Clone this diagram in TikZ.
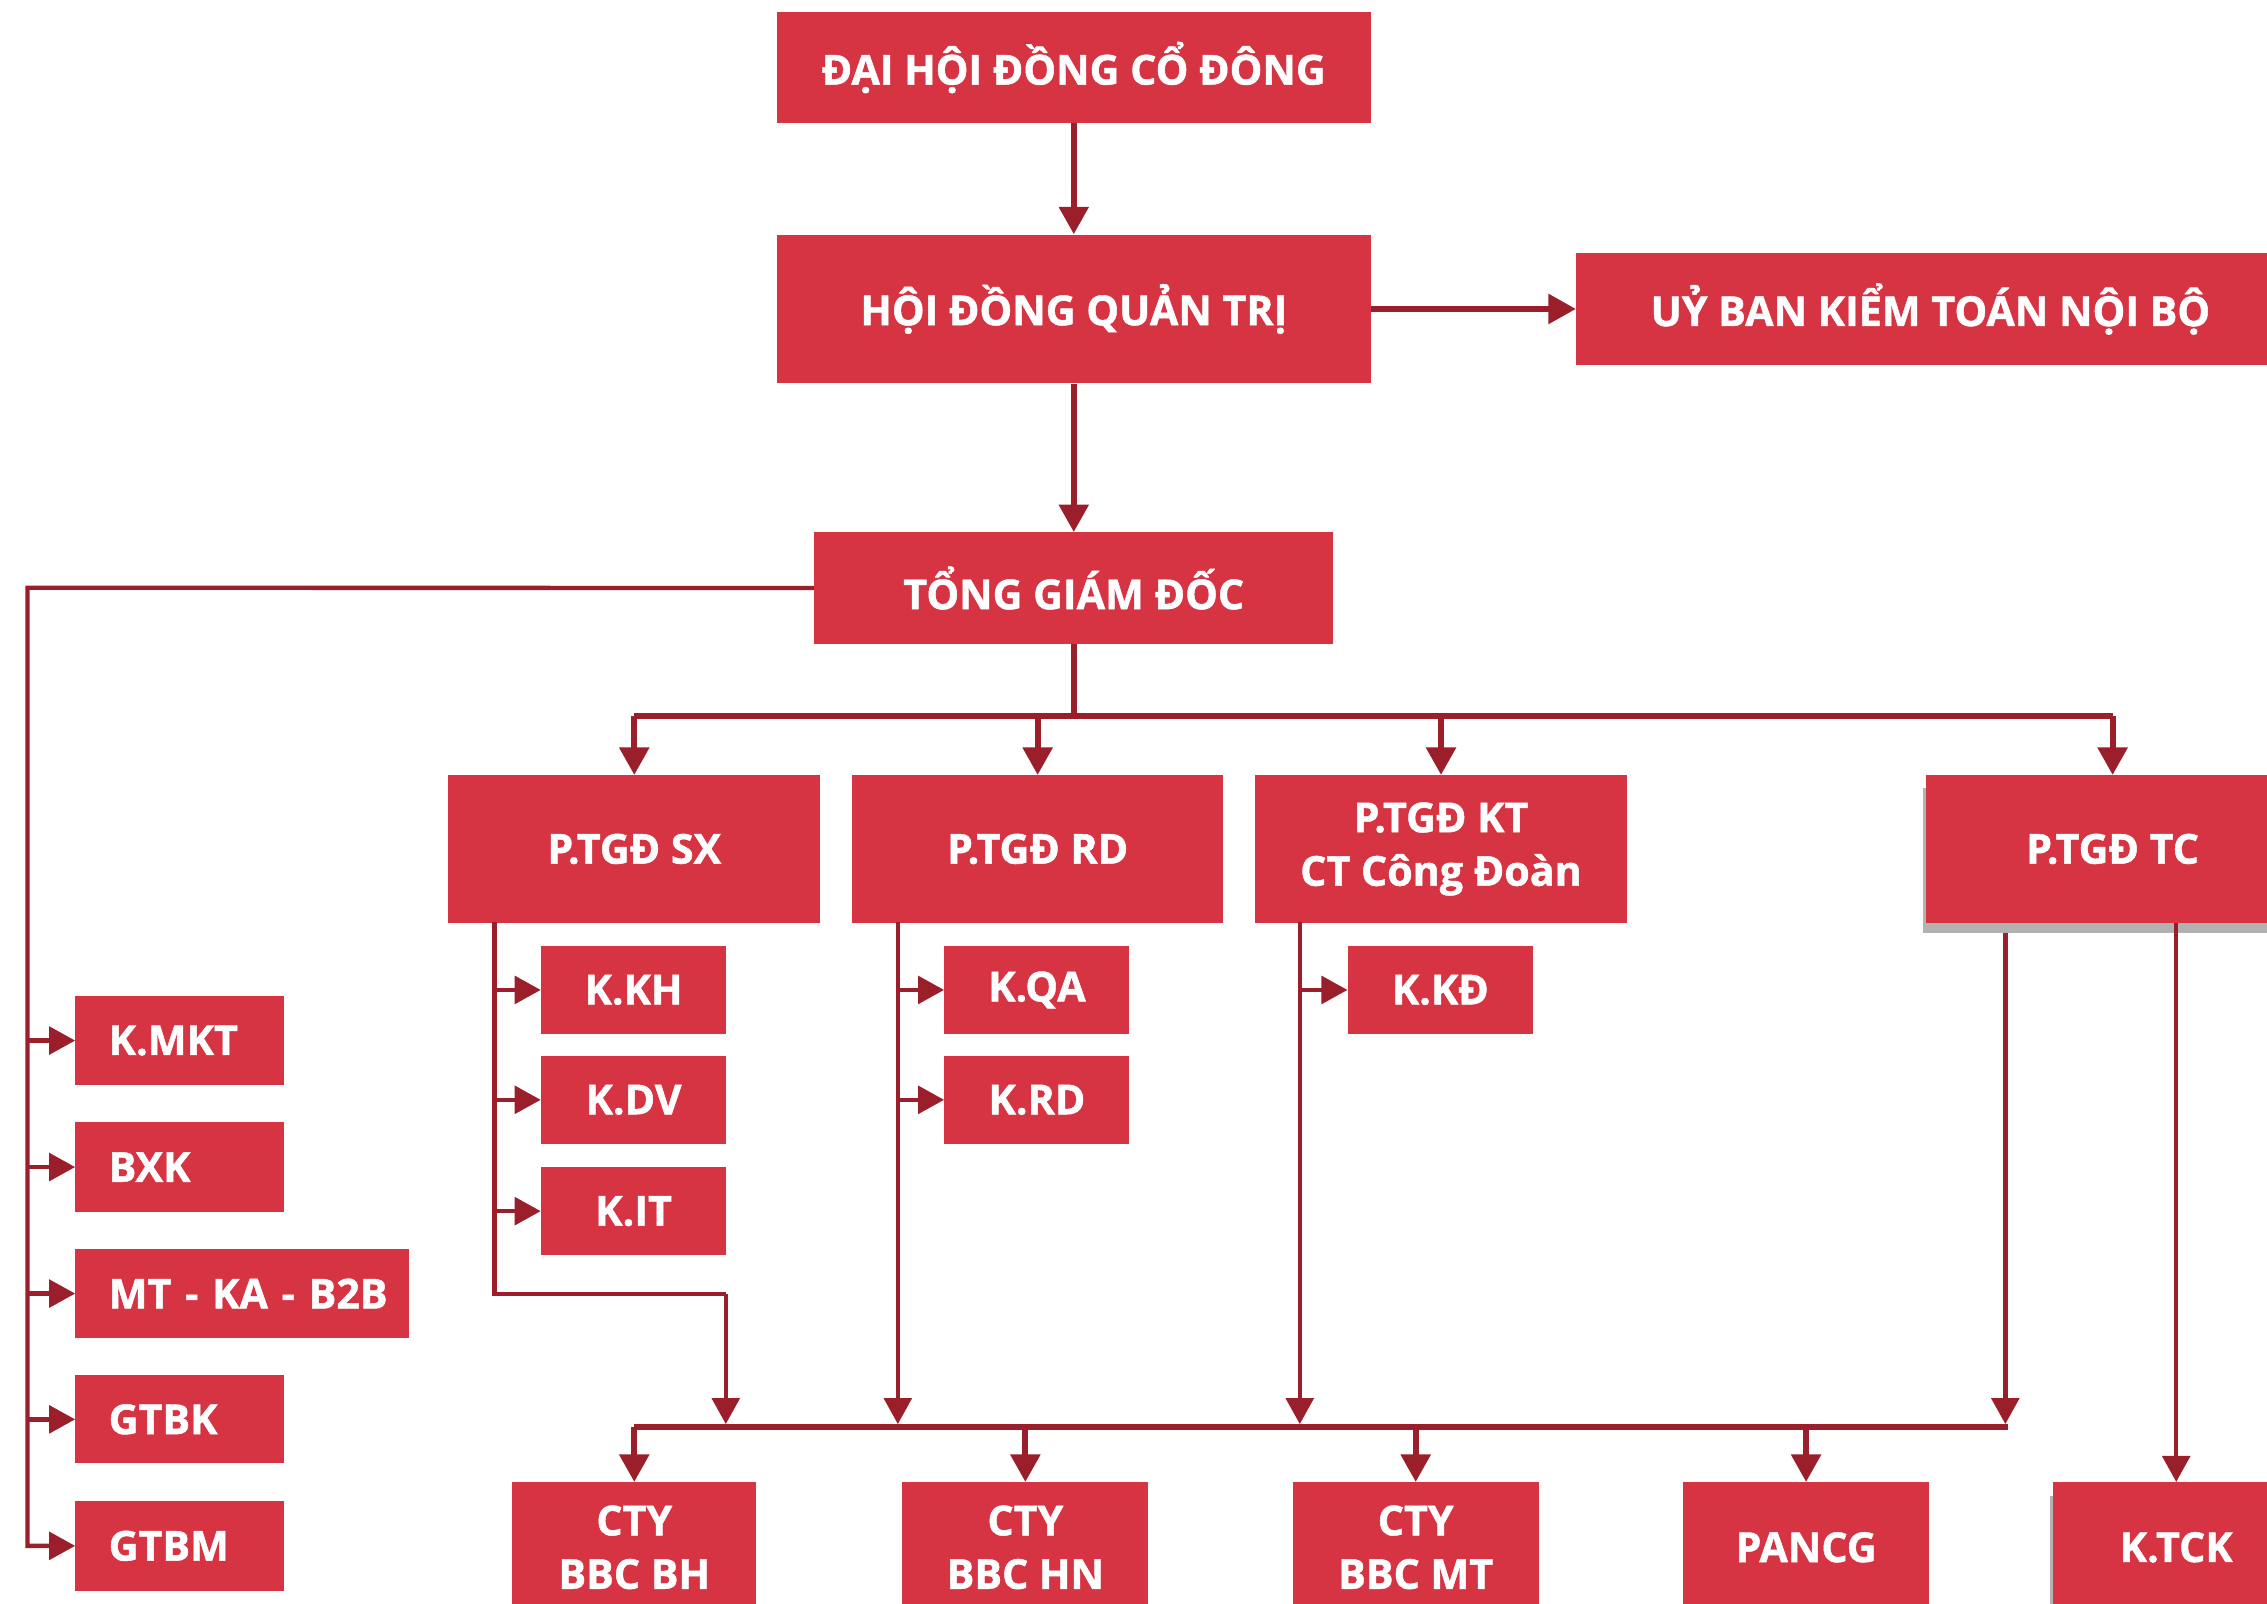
\documentclass[tikz,border=0pt]{standalone}
\usepackage{fontspec}
\setmainfont{Open Sans}[FakeBold=1.2]
\usetikzlibrary{arrows.meta}
\definecolor{boxred}{RGB}{214,52,67}
\definecolor{linered}{RGB}{155,31,42}
\definecolor{shadowgray}{RGB}{178,178,178}
\begin{document}
\begin{tikzpicture}[x=1pt,y=-1pt,
  box/.style={fill=boxred, text=white, font=\bfseries\fontsize{28.5}{37}\selectfont,
    inner sep=0pt, align=center, anchor=north west},
  lbox/.style={box, align=left},
  conn/.style={draw=linered, line width=4pt, -{Triangle[width=20pt,length=19pt]}},
  conn2/.style={draw=linered, line width=3pt, -{Triangle[width=19pt,length=18pt]}},
  plain/.style={draw=linered, line width=4pt},
  plain2/.style={draw=linered, line width=3pt},
]
\useasboundingbox (0,0) rectangle (1568,1109);
\clip (0,0) rectangle (1568,1109);

% top level
\node[box, minimum width=411, minimum height=77] (dh) at (537,8) {ĐẠI HỘI ĐỒNG CỔ ĐÔNG};
\node[box, minimum width=411, minimum height=103] (hd) at (537,162) {HỘI ĐỒNG QUẢN TRỊ};
\node[box, minimum width=490, minimum height=77] (ub) at (1090,175) {UỶ BAN KIỂM TOÁN NỘI BỘ};
\node[box, minimum width=359, minimum height=77] (tgd) at (563,368) {TỔNG GIÁM ĐỐC};

\draw[conn] (dh.south) -- (hd.north);
\draw[conn] (hd.east) -- (ub.west);
\draw[conn] (hd.south) -- (tgd.north);

% deputies
\node[box, minimum width=257, minimum height=102] (sx) at (310,536) {P.TGĐ SX};
\node[box, minimum width=257, minimum height=102] (rd) at (589,536) {P.TGĐ RD};
\node[box, minimum width=257, minimum height=102] (kt) at (868,536) {P.TGĐ KT\\CT Công Đoàn};
\fill[shadowgray] (1330,545) rectangle (1600,645);
\node[box, minimum width=258, minimum height=102] (tc) at (1332,536) {P.TGĐ TC};

\coordinate (bus) at (0,495);
\draw[plain] (tgd.south) -- (tgd.south |- bus);
\draw[plain] (sx.north |- bus) -- (tc.north |- bus);
\draw[conn] (sx.north |- bus) -- (sx.north);
\draw[conn] (rd.north |- bus) -- (rd.north);
\draw[conn] (kt.north |- bus) -- (kt.north);
\draw[conn] (tc.north |- bus) -- (tc.north);

% left column
\node[lbox, text width=144, minimum height=61] (kmkt) at (52,689) {\hspace*{23pt}K.MKT};
\node[lbox, text width=144, minimum height=62] (bxk) at (52,776) {\hspace*{23pt}BXK};
\node[lbox, text width=231, minimum height=61] (mtka) at (52,864) {\hspace*{23pt}MT - KA - B2B};
\node[lbox, text width=144, minimum height=61] (gtbk) at (52,951) {\hspace*{23pt}GTBK};
\node[lbox, text width=144, minimum height=62] (gtbm) at (52,1038) {\hspace*{23pt}GTBM};

\coordinate (L) at (19,406.5);
\draw[conn2] (tgd.west) -- (L) |- (gtbm.west);
\draw[conn2] (L |- kmkt.west) -- (kmkt.west);
\draw[conn2] (L |- bxk.west) -- (bxk.west);
\draw[conn2] (L |- mtka.west) -- (mtka.west);
\draw[conn2] (L |- gtbk.west) -- (gtbk.west);

% SX children
\node[box, minimum width=128, minimum height=61] (kkh) at (374,654) {K.KH};
\node[box, minimum width=128, minimum height=61] (kdv) at (374,730) {K.DV};
\node[box, minimum width=128, minimum height=61] (kit) at (374,807) {K.IT};
% RD children
\node[box, minimum width=128, minimum height=61] (kqa) at (653,654) {K.QA};
\node[box, minimum width=128, minimum height=61] (krd) at (653,730) {K.RD};
% KT children
\node[box, minimum width=128, minimum height=61] (kkd) at (932,654) {K.KĐ};

% bottom row
\node[box, minimum width=169, minimum height=90] (bh) at (354,1025) {CTY\\BBC BH};
\node[box, minimum width=170, minimum height=90] (hn) at (624,1025) {CTY\\BBC HN};
\node[box, minimum width=170, minimum height=90] (mt) at (894,1025) {CTY\\BBC MT};
\node[box, minimum width=170, minimum height=90] (pan) at (1164,1025) {PANCG};
\fill[shadowgray] (1418,1035) rectangle (1425,1120);
\node[box, minimum width=170, minimum height=90] (tck) at (1420,1025) {K.TCK};

\coordinate (sxv) at (342,638);
\coordinate (rdv) at (621,638);
\coordinate (ktv) at (899,638);
\coordinate (bus2) at (0,987);
\coordinate (bus2top) at (0,985);

\draw[plain2] (sxv) -- (342,895) -- (502,895) coordinate (sxc);
\draw[conn2] (sxc) -- (sxc |- bus2top);
\draw[conn2] (sxv |- kkh.west) -- (kkh.west);
\draw[conn2] (sxv |- kdv.west) -- (kdv.west);
\draw[conn2] (sxv |- kit.west) -- (kit.west);

\draw[conn2] (rdv) -- (rdv |- bus2top);
\draw[conn2] (rdv |- kqa.west) -- (kqa.west);
\draw[conn2] (rdv |- krd.west) -- (krd.west);

\draw[conn2] (ktv) -- (ktv |- bus2top);
\draw[conn2] (ktv |- kkd.west) -- (kkd.west);

\coordinate (tcl) at (1387,645);
\draw[conn2] (tcl) -- (tcl |- bus2top);
\draw[conn2] (tck.north |- tc.south) -- (tck.north);

\draw[plain] (bh.north |- bus2) -- (1389,987);
\draw[conn] (bh.north |- bus2) -- (bh.north);
\draw[conn] (hn.north |- bus2) -- (hn.north);
\draw[conn] (mt.north |- bus2) -- (mt.north);
\draw[conn] (pan.north |- bus2) -- (pan.north);
\end{tikzpicture}
\end{document}
